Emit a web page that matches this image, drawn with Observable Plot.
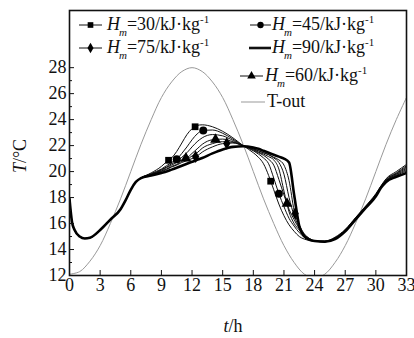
<!DOCTYPE html>
<html><head><meta charset="utf-8">
<script src="https://cdn.jsdelivr.net/npm/d3@7"></script>
<script src="https://cdn.jsdelivr.net/npm/@observablehq/plot@0.6"></script>
<style>body{margin:0;background:#fff} svg text{font-family:"Liberation Serif","Times New Roman",serif !important;}</style>
</head><body><div id="chart"></div>
<script>
// time grid (h) for the indoor temperature curves
const prefixHours = [0,0.25,0.5,1,1.5,2,3,4,5,5.5,6,6.5,7];
const middleHours = [8,9,9.5,10,10.5,11,11.5,12,12.5,13,14,15,16,17,18,18.5,19,19.5,20,20.5,21,21.5,22,22.5,23,23.5,24];
const suffixHours = [25,26,27,28,29,30,30.5,31,32,33];

// shared start of all curves
const prefixT = [17.9,16.1,15.5,15.0,14.85,14.9,15.5,16.3,17.1,17.8,18.6,19.2,19.5];

const hm30Mid = [19.9,20.4,20.75,21.05,21.55,22.2,22.85,23.3,23.55,23.6,23.45,23.1,22.6,22.0,21.45,21.1,20.6,19.7,18.6,17.5,16.6,15.9,15.4,15.0,14.8,14.7,14.65];
const hm45Mid = [19.85,20.2,20.45,20.7,20.95,21.4,21.9,22.45,22.9,23.15,23.2,22.95,22.5,22.0,21.6,21.35,21.05,20.6,19.5,18.3,17.3,16.4,15.8,15.3,14.95,14.75,14.65];
const extraAMid = [19.8,20.15,20.35,20.6,20.8,21.1,21.45,21.9,22.3,22.6,22.85,22.75,22.4,22.0,21.65,21.45,21.25,20.95,20.5,19.4,18.2,17.1,16.3,15.6,15.1,14.8,14.65];
const hm60Mid = [19.8,20.1,20.3,20.5,20.7,20.9,21.05,21.4,21.75,22.1,22.45,22.5,22.3,22.0,21.7,21.5,21.35,21.15,20.9,20.2,18.5,16.9,16.0,15.5,15.05,14.8,14.65];
const extraBMid = [19.75,20.05,20.2,20.4,20.55,20.8,20.95,21.2,21.45,21.8,22.15,22.3,22.25,22.0,21.75,21.6,21.45,21.3,21.05,20.7,19.8,18.0,16.6,15.7,15.15,14.85,14.65];
const hm75Mid = [19.75,20.0,20.15,20.35,20.5,20.7,20.85,21.0,21.2,21.5,21.9,22.15,22.2,22.0,21.75,21.6,21.45,21.3,21.1,20.9,20.5,19.3,17.0,15.9,15.2,14.85,14.65];
const hm90Mid = [19.7,19.9,20.0,20.15,20.3,20.45,20.6,20.75,20.9,21.05,21.4,21.7,21.9,21.95,21.85,21.75,21.6,21.45,21.3,21.15,21.0,20.7,18.2,15.8,15.0,14.75,14.65];

const hm30End = [14.65,14.95,15.55,16.45,17.35,18.3,18.9,19.45,20.0,20.55];
const hm45End = [14.65,14.9,15.5,16.4,17.3,18.25,18.85,19.4,19.9,20.45];
const extraAEnd = [14.6,14.9,15.5,16.4,17.3,18.2,18.85,19.35,19.85,20.35];
const hm60End = [14.6,14.85,15.45,16.35,17.25,18.2,18.8,19.3,19.8,20.25];
const extraBEnd = [14.6,14.85,15.45,16.35,17.25,18.15,18.8,19.3,19.75,20.15];
const hm75End = [14.6,14.85,15.45,16.35,17.25,18.15,18.75,19.25,19.7,20.05];
const hm90End = [14.6,14.8,15.4,16.3,17.2,18.1,18.75,19.2,19.6,19.9];

// outdoor temperature
const outHours = [0,1,2,3,4,5,6,7,8,9,10,11,12,13,14,15,16,17,18,19,20,21,22,23,24,25,26,27,28,29,30,31,32,33];
const tOut = [12.1,12.3,13.1,14.3,16.0,17.9,20.0,22.1,24.0,25.7,26.9,27.7,28.0,27.7,26.9,25.7,24.0,22.1,20.0,17.9,16.0,14.3,13.0,12.1,11.8,12.1,13.0,14.3,16.0,17.9,20.0,22.1,24.0,25.7];

// marker times (h) for each labelled series
const hm30Marks = [9.7,12.3,19.7];
const hm45Marks = [10.5,13.1,20.5];
const hm60Marks = [11.4,14.3,21.3];
const hm75Marks = [12.35,15.4,22.1];

const xTicks = [0,3,6,9,12,15,18,21,24,27,30,33];
const yTicks = [12,14,16,18,20,22,24,26,28];
const yMinor = [13,15,17,19,21,23,25,27];

const hours = [...prefixHours, ...middleHours, ...suffixHours];
function series(name, mid, end) {
  const vals = [...prefixT, ...mid, ...end];
  return hours.map((t, i) => ({name, t, v: vals[i]}));
}
const s30 = series("30", hm30Mid, hm30End);
const s45 = series("45", hm45Mid, hm45End);
const sA = series("A", extraAMid, extraAEnd);
const s60 = series("60", hm60Mid, hm60End);
const sB = series("B", extraBMid, extraBEnd);
const s75 = series("75", hm75Mid, hm75End);
const s90 = series("90", hm90Mid, hm90End);
const thin = [...s30, ...s45, ...sA, ...s60, ...sB, ...s75];
const outData = outHours.map((t, i) => ({t, v: tOut[i]}));

function marks(s, times) {
  return times.map(t => {
    const i = d3.bisector(d => d.t).right(s, t) - 1;
    const a = s[i], b = s[i + 1];
    const f = (t - a.t) / (b.t - a.t);
    return {t, v: a.v + f * (b.v - a.v)};
  });
}

const font = "'Liberation Serif', 'Times New Roman', serif";
const W = 414, H = 338;
const chart = Plot.plot({
  width: W, height: H,
  marginLeft: 69, marginRight: 8, marginTop: 10, marginBottom: 63,
  style: {fontFamily: font, fontSize: "18px", background: "#fff", color: "#111"},
  x: {domain: [0, 33]},
  y: {domain: [12, 32.4]},
  marks: [
    Plot.line(outData, {x: "t", y: "v", stroke: "#999", strokeWidth: 1, curve: "catmull-rom", clip: true}),
    Plot.line(thin, {x: "t", y: "v", z: "name", stroke: "#111", strokeWidth: 1, curve: "monotone-x", clip: true}),
    Plot.line(s90, {x: "t", y: "v", stroke: "#000", strokeWidth: 2.6, curve: "monotone-x", clip: true}),
    Plot.dot(marks(s30, hm30Marks), {x: "t", y: "v", symbol: "square", r: 3.8, fill: "#000", stroke: "none"}),
    Plot.dot(marks(s45, hm45Marks), {x: "t", y: "v", symbol: "circle", r: 4, fill: "#000", stroke: "none"}),
    Plot.dot(marks(s60, hm60Marks), {x: "t", y: "v", symbol: "triangle", r: 4, fill: "#000", stroke: "none"}),
    Plot.dot(marks(s75, hm75Marks), {x: "t", y: "v", symbol: "diamond", r: 3.8, fill: "#000", stroke: "none"}),
    Plot.tickX(xTicks, {x: d => d, insetTop: 260, stroke: "#111", strokeWidth: 1}),
    Plot.tickY(yTicks, {y: d => d, insetRight: 332, stroke: "#111", strokeWidth: 1}),
    Plot.tickY(yMinor, {y: d => d, insetRight: 334, stroke: "#111", strokeWidth: 1}),
    Plot.axisX(xTicks, {tickSize: 0, tickPadding: 3, fontSize: 18, label: null, fontFamily: font}),
    Plot.axisY(yTicks, {tickSize: 0, tickPadding: 3, fontSize: 18, label: null, fontFamily: font}),
    Plot.frame({stroke: "#111", strokeWidth: 1.6})
  ]
});
document.getElementById("chart").appendChild(chart);

const svg = d3.select(chart);

// axis titles
const yl = svg.append("text").attr("transform", "translate(26,156) rotate(-90)")
  .attr("text-anchor", "middle").attr("font-family", font).attr("font-size", 18).attr("fill", "#111");
yl.append("tspan").attr("font-style", "italic").text("T");
yl.append("tspan").text("/°C");
const xl = svg.append("text").attr("x", 233).attr("y", 332)
  .attr("text-anchor", "middle").attr("font-family", font).attr("font-size", 18).attr("fill", "#111");
xl.append("tspan").attr("font-style", "italic").text("t");
xl.append("tspan").text("/h");

// legend
const lg = svg.append("g").attr("fill", "#111").attr("text-anchor", "start");
function entry(x1, x2, y, sym, thick, grey, textX, label, isH) {
  lg.append("line").attr("x1", x1).attr("x2", x2).attr("y1", y).attr("y2", y)
    .attr("stroke", grey ? "#999" : "#111").attr("stroke-width", thick ? 2.6 : 1);
  if (sym) {
    lg.append("path").attr("transform", `translate(${(x1 + x2) / 2},${y})`)
      .attr("d", d3.symbol(sym, 32)()).attr("fill", "#000");
  }
  const t = lg.append("text").attr("x", textX).attr("y", y + 5)
    .attr("text-anchor", "start").attr("font-family", font).attr("font-size", 18);
  if (isH) {
    t.append("tspan").attr("font-style", "italic").text("H");
    t.append("tspan").attr("font-style", "italic").attr("font-size", 11).attr("dx", -1).attr("dy", 6).text("m");
    t.append("tspan").attr("dy", -6).text("=" + label + "/kJ·kg");
    t.append("tspan").attr("font-size", 11).attr("dy", -7).text("-1");
  } else {
    t.text(label);
  }
}
entry(79, 102, 25, d3.symbolSquare, false, false, 107, "30", true);
entry(250, 271, 25, d3.symbolCircle, false, false, 272, "45", true);
entry(79, 102, 48, d3.symbolDiamond, false, false, 107, "75", true);
entry(249, 271, 48, null, true, false, 272, "90", true);
entry(240, 263, 76, d3.symbolTriangle, false, false, 265, "60", true);
entry(241, 265, 102, null, false, true, 267, "T-out", false);
</script>
</body></html>
